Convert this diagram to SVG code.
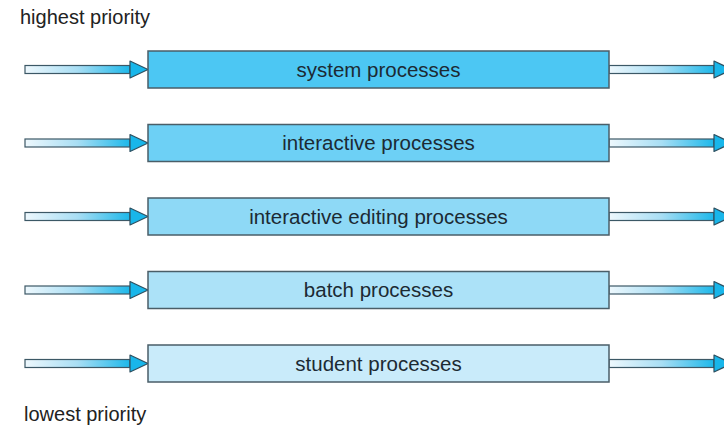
<svg xmlns="http://www.w3.org/2000/svg" width="724" height="428" viewBox="0 0 724 428">
<defs>
<linearGradient id="shaft" x1="0" y1="0" x2="1" y2="0">
<stop offset="0" stop-color="#eef8fd"/>
<stop offset="0.5" stop-color="#a8def4"/>
<stop offset="1" stop-color="#1db8ea"/>
</linearGradient>
<g id="arrow">
<rect x="0" y="-4" width="105" height="8" fill="url(#shaft)" stroke="#3c5866" stroke-width="1.2"/>
<path d="M105,-8.5 L123,0 L105,8.5 Z" fill="#18b6ea" stroke="#2e5060" stroke-width="1.2" stroke-linejoin="round"/>
</g>
</defs>
<style>
.box{stroke:#4a5e68;stroke-width:1.5}
.lbl{font-family:"Liberation Sans",Arial,sans-serif;font-size:20.5px;fill:#1c2a33;text-anchor:middle}
.side{font-family:"Liberation Sans",Arial,sans-serif;font-size:20px;fill:#222}
</style>
<rect width="724" height="428" fill="#fff"/>
<text class="side" x="20" y="24">highest priority</text>
<text class="side" x="24" y="421">lowest priority</text>
<g id="connectors">
<use href="#arrow" x="25" y="69.5"/>
<use href="#arrow" x="609" y="69.5"/>
<use href="#arrow" x="25" y="143"/>
<use href="#arrow" x="609" y="143"/>
<use href="#arrow" x="25" y="216.5"/>
<use href="#arrow" x="609" y="216.5"/>
<use href="#arrow" x="25" y="290"/>
<use href="#arrow" x="609" y="290"/>
<use href="#arrow" x="25" y="363.5"/>
<use href="#arrow" x="609" y="363.5"/>
</g>
<g id="system">
<rect class="box" x="148" y="51" width="461" height="37" fill="#4cc7f3"/>
<text class="lbl" x="378.5" y="76.5">system processes</text>
</g>
<g id="interactive">
<rect class="box" x="148" y="124.5" width="461" height="37" fill="#6dd0f5"/>
<text class="lbl" x="378.5" y="150">interactive processes</text>
</g>
<g id="editing">
<rect class="box" x="148" y="198" width="461" height="37" fill="#8ed9f6"/>
<text class="lbl" x="378.5" y="223.5">interactive editing processes</text>
</g>
<g id="batch">
<rect class="box" x="148" y="271.5" width="461" height="37" fill="#ace2f8"/>
<text class="lbl" x="378.5" y="297">batch processes</text>
</g>
<g id="student">
<rect class="box" x="148" y="345" width="461" height="37" fill="#c9ebfa"/>
<text class="lbl" x="378.5" y="370.5">student processes</text>
</g>
</svg>
